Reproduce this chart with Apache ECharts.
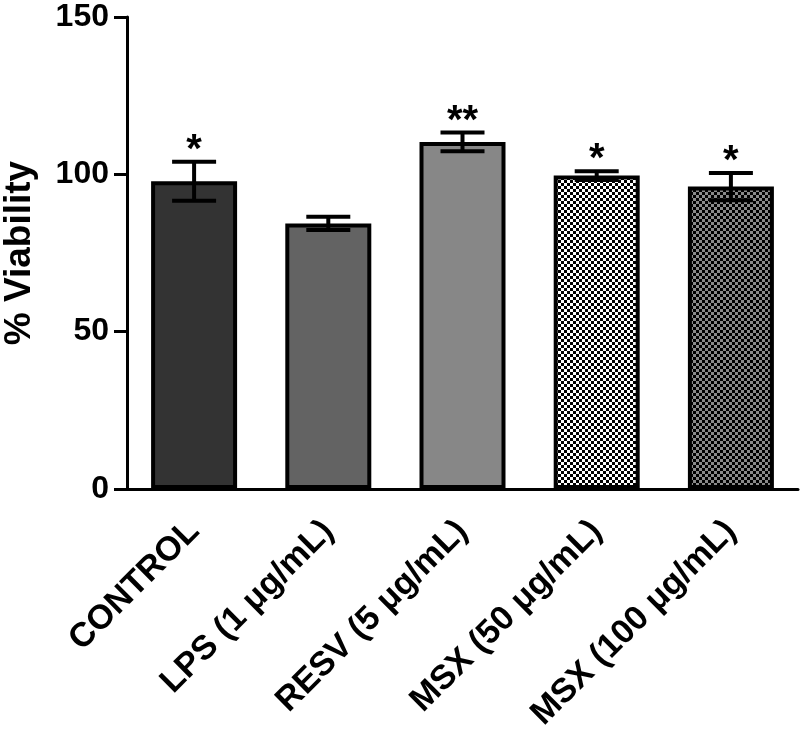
<!DOCTYPE html>
<html>
<head>
<meta charset="utf-8">
<script src="https://cdn.jsdelivr.net/npm/echarts@6/dist/echarts.min.js"></script>
<style>
html,body{margin:0;padding:0;background:#fff;}
#chart{width:800px;height:736px;}
</style>
</head>
<body>
<div id="chart"></div>
<script>
var categories = ['CONTROL', 'LPS (1 μg/mL)', 'RESV (5 μg/mL)', 'MSX (50 μg/mL)', 'MSX (100 μg/mL)'];
var meanValues = [97.8, 84.4, 110.3, 99.6, 96.1];
var errorValues = [6.2, 2.1, 3.0, 1.4, 4.3];
var significance = ['*', '', '**', '*', '*'];
var yTicks = [0, 50, 100, 150];

function checker(c1, c2, cell) {
  var cv = document.createElement('canvas');
  cv.width = cell * 2; cv.height = cell * 2;
  var ctx = cv.getContext('2d');
  ctx.fillStyle = c2; ctx.fillRect(0, 0, cell * 2, cell * 2);
  ctx.fillStyle = c1;
  ctx.fillRect(0, 0, cell, cell);
  ctx.fillRect(cell, cell, cell, cell);
  return cv;
}

var fills = [
  '#333333',
  '#636363',
  '#878787',
  {image: checker('#000000', '#ffffff', 3), repeat: 'repeat'},
  {image: checker('#000000', '#8a8a8a', 3), repeat: 'repeat'}
];

var font = 'Liberation Sans, Arial, Helvetica, sans-serif';

var barData = meanValues.map(function (v, i) {
  return {value: v, itemStyle: {color: fills[i]}};
});
var errData = meanValues.map(function (v, i) {
  return [i, v - errorValues[i], v + errorValues[i], significance[i]];
});

var chart = echarts.init(document.getElementById('chart'), null, {renderer: 'canvas'});
chart.setOption({
  animation: false,
  backgroundColor: '#ffffff',
  grid: {left: 127, right: 2, top: 17, bottom: 247, containLabel: false, outerBoundsMode: 'none'},
  xAxis: {
    type: 'category',
    data: categories,
    axisLine: {lineStyle: {color: '#000', width: 3}},
    axisTick: {alignWithLabel: true, length: 13, lineStyle: {color: '#000', width: 3}},
    axisLabel: {rotate: 45, margin: 37, color: '#000', fontSize: 34, fontWeight: 'bold', fontFamily: font, interval: 0}
  },
  yAxis: {
    type: 'value',
    min: 0, max: 150, interval: 50,
    name: '% Viability',
    nameLocation: 'middle',
    nameGap: 89,
    nameTextStyle: {color: '#000', fontSize: 37, fontWeight: 'bold', fontFamily: font},
    axisLine: {show: true, lineStyle: {color: '#000', width: 3}},
    axisTick: {show: true, length: 13, lineStyle: {color: '#000', width: 3}},
    axisLabel: {margin: 18, color: '#000', fontSize: 32, fontWeight: 'bold', fontFamily: font,
      formatter: function (v) { return yTicks.indexOf(v) >= 0 ? String(v) : ''; }},
    splitLine: {show: false}
  },
  series: [
    {
      type: 'bar',
      data: barData,
      barWidth: 86,
      itemStyle: {borderColor: '#000', borderWidth: 4}
    },
    {
      type: 'custom',
      data: errData,
      z: 5,
      renderItem: function (params, api) {
        var x = api.value(0);
        var lo = api.coord([x, api.value(1)]);
        var hi = api.coord([x, api.value(2)]);
        var half = 22;
        var style = {stroke: '#000', lineWidth: 4};
        var children = [
          {type: 'line', shape: {x1: lo[0], y1: lo[1], x2: hi[0], y2: hi[1]}, style: style},
          {type: 'line', shape: {x1: hi[0] - half, y1: hi[1], x2: hi[0] + half, y2: hi[1]}, style: style},
          {type: 'line', shape: {x1: lo[0] - half, y1: lo[1], x2: lo[0] + half, y2: lo[1]}, style: style}
        ];
        var sig = significance[params.dataIndex];
        if (sig) {
          children.push({
            type: 'text',
            style: {text: sig, x: hi[0], y: hi[1] + 9, textAlign: 'center', textVerticalAlign: 'bottom',
              fill: '#000', font: 'bold 40px ' + font}
          });
        }
        return {type: 'group', children: children};
      }
    }
  ]
});
</script>
</body>
</html>
